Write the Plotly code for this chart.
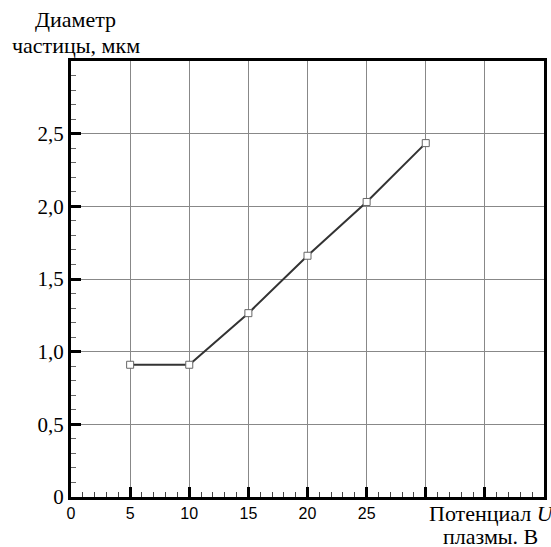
import plotly.graph_objects as go

# Data
voltage = [5, 10, 15, 20, 25, 30]
diameter = [0.91, 0.91, 1.265, 1.66, 2.03, 2.435]

x_tick_vals = [0, 5, 10, 15, 20, 25, 30, 35, 40]
x_tick_text = ["0", "5", "10", "15", "20", "25", "", "", ""]
y_tick_vals = [0, 0.5, 1.0, 1.5, 2.0, 2.5, 3.0]
y_tick_text = ["0", "0,5", "1,0", "1,5", "2,0", "2,5", ""]

y_title_lines = ["Диаметр", "частицы, мкм"]
x_title_lines = ["Потенциал <i>U</i>", "плазмы. В"]

SERIF = "Liberation Serif, Times New Roman, serif"
SANS = "Liberation Sans, Arial, sans-serif"

fig = go.Figure()
fig.add_trace(go.Scatter(
    x=voltage, y=diameter, mode="lines+markers",
    line=dict(color="#333333", width=2),
    marker=dict(symbol="square", size=7, color="white",
                line=dict(color="#666666", width=1)),
    showlegend=False,
))

axis_common = dict(
    showline=True, linecolor="black", linewidth=3, mirror=True,
    showgrid=True, gridcolor="#888888", gridwidth=1,
    ticks="inside", ticklen=10, tickwidth=2.5, tickcolor="black",
    zeroline=False,
)

fig.update_xaxes(
    range=[0, 40], tickmode="array", tickvals=x_tick_vals, ticktext=x_tick_text,
    tickfont=dict(family=SANS, size=16, color="black"),
    minor=dict(dtick=1, ticks="inside", ticklen=5, tickwidth=1, tickcolor="#444444", showgrid=False),
    **axis_common,
)
fig.update_yaxes(
    range=[0, 3], tickmode="array", tickvals=y_tick_vals, ticktext=y_tick_text,
    tickfont=dict(family=SERIF, size=21, color="black"),
    minor=dict(dtick=0.1, ticks="inside", ticklen=5, tickwidth=1, tickcolor="#666666", showgrid=False),
    **axis_common,
)

L, R, T, B = 71, 4, 61, 50
W, H = 551, 547
pw, ph = W - L - R, H - T - B

def px_to_paper(xp, yp):
    return (xp - L) / pw, (H - B - yp) / ph

annotations = []
for txt, (xp, yp) in zip(y_title_lines, [(76, 19), (76, 46)]):
    xx, yy = px_to_paper(xp, yp)
    annotations.append(dict(text=txt, x=xx, y=yy, xref="paper", yref="paper",
                            xanchor="center", yanchor="middle", showarrow=False,
                            font=dict(family=SERIF, size=22, color="black")))
for txt, (xp, yp) in zip(x_title_lines, [(495, 513), (493, 536)]):
    xx, yy = px_to_paper(xp, yp)
    annotations.append(dict(text=txt, x=xx, y=yy, xref="paper", yref="paper",
                            xanchor="center", yanchor="middle", showarrow=False,
                            font=dict(family=SERIF, size=22, color="black")))

fig.update_layout(
    width=W, height=H,
    margin=dict(l=L, r=R, t=T, b=B),
    paper_bgcolor="white", plot_bgcolor="white",
    annotations=annotations,
)

fig.write_html("out.html", config={"displayModeBar": False},
               post_script="document.body.style.margin='0px';")
